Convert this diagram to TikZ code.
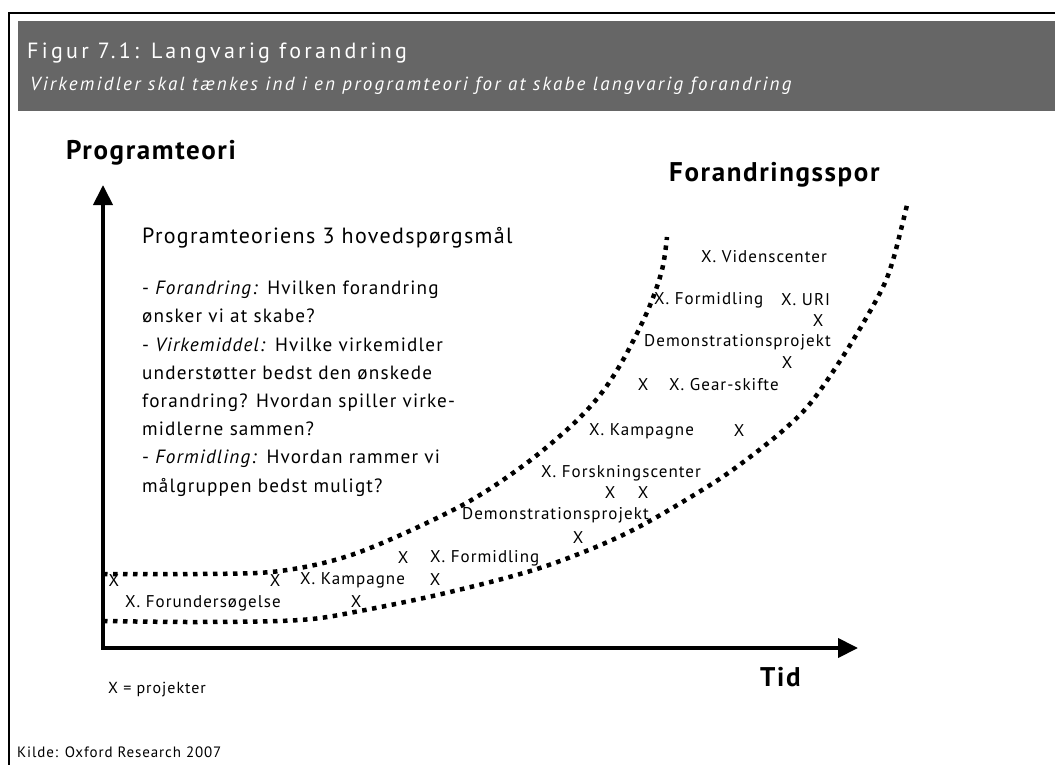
\documentclass[tikz,border=0pt]{standalone}
\usepackage{fontspec}
\setmainfont{PT Sans}[LetterSpace=6]
\newfontfamily\headfont{PT Sans}[LetterSpace=15]
\newfontfamily\subheadfont{PT Sans}[LetterSpace=12]
\usetikzlibrary{arrows.meta}
\definecolor{headgray}{HTML}{666666}
\tikzset{
  px/.style={x=1pt,y=-1pt},
  lbl/.style={inner sep=0pt, anchor=west, font=\fontsize{17}{19}\selectfont},
  xmark/.style={inner sep=0pt, anchor=center, font=\fontsize{17}{19}\selectfont},
  bigtitle/.style={inner sep=0pt, anchor=west, font=\fontsize{27}{29}\selectfont\bfseries},
  axisline/.style={line width=4pt, -{Triangle[width=19pt,length=20pt]}},
  track/.style={line width=4.5pt, dash pattern=on 4.5pt off 5.5pt},
}
\begin{document}
\begin{tikzpicture}[px]
\useasboundingbox (0,0) rectangle (1055,765);
% frame and header band
\fill[white] (0,0) rectangle (1055,765);
\draw[line width=2.5pt] (9,765) -- (9,13) -- (1056,13);
\fill[headgray] (18,21) rectangle (1056,111);
\node[inner sep=0pt, anchor=base west, text=white, font=\headfont\fontsize{22}{24}\selectfont] (title) at (27,59) {Figur 7.1: Langvarig forandring};
\node[inner sep=0pt, anchor=base west, text=white, font=\subheadfont\fontsize{19}{21}\selectfont\itshape] (subtitle) at (30,91) {Virkemidler skal tænkes ind i en programteori for at skabe langvarig forandring};

% axes
\coordinate (origin) at (103,648);
\coordinate (ytip) at (103,185);
\coordinate (xtip) at (858,648);
\draw[axisline] (origin) -- (ytip);
\draw[axisline] ([xshift=-2pt]origin) -- (xtip);
\node[bigtitle] (ylabel) at (66,153) {Programteori};
\node[bigtitle] (trackslabel) at (669,175) {Forandringsspor};
\node[bigtitle] (xlabel) at (760,677) {Tid};

% the two change tracks
\draw[track] plot[smooth, tension=0.55] coordinates {
  (103,574) (200,574) (280,571) (357,553) (457,508) (520,468) (570,427)
  (600,395) (623,360) (648,310) (662,270) (667,237)};
\draw[track] plot[smooth, tension=0.55] coordinates {
  (103,621) (200,622) (300,620) (360,611) (450,592) (543,567) (627,533)
  (707,487) (750,457) (787,427) (813,400) (847,350) (880,293) (893,260) (907,205)};

% program theory questions
\node[inner sep=0pt, anchor=west, font=\fontsize{22}{24}\selectfont] (qhead) at (142,238) {Programteoriens 3 hovedspørgsmål};
\node[inner sep=0pt, anchor=north west, align=left, font=\fontsize{19.2}{28.2}\selectfont] (qtext) at (142,281) {%
- \textit{Forandring:} Hvilken forandring\\
ønsker vi at skabe?\\
- \textit{Virkemiddel:} Hvilke virkemidler\\
understøtter bedst den ønskede\\
forandring? Hvordan spiller virke-\\
midlerne sammen?\\
- \textit{Formidling:} Hvordan rammer vi\\
målgruppen bedst muligt?};

% projects along the tracks
\node[xmark] (x1) at (114,581) {X};
\node[lbl] (forund) at (125,603) {X. Forundersøgelse};
\node[xmark] (x2) at (275,581) {X};
\node[lbl] (kamp1) at (300,580) {X. Kampagne};
\node[xmark] (x3) at (435,580) {X};
\node[xmark] (x4) at (356,602) {X};
\node[xmark] (x5) at (403,558) {X};
\node[lbl] (form1) at (430,558) {X. Formidling};
\node[lbl] (demo1) at (462,515) {Demonstrationsprojekt};
\node[xmark] (x6) at (578,538) {X};
\node[xmark] (x7) at (610,493) {X};
\node[xmark] (x8) at (643,493) {X};
\node[lbl] (forsk) at (541,473) {X. Forskningscenter};
\node[lbl] (kamp2) at (589,431) {X. Kampagne};
\node[xmark] (x9) at (739,431) {X};
\node[xmark] (x10) at (643,385) {X};
\node[lbl] (gear) at (669,385) {X. Gear-skifte};
\node[xmark] (x11) at (787,363) {X};
\node[lbl] (demo2) at (644,342) {Demonstrationsprojekt};
\node[xmark] (x12) at (818,321) {X};
\node[lbl] (form2) at (654,300) {X. Formidling};
\node[lbl] (uri) at (781,300) {X. URI};
\node[lbl] (viden) at (701,257) {X. Videnscenter};

% legend and source
\node[inner sep=0pt, anchor=west, font=\fontsize{16}{18}\selectfont] (legend) at (108,690) {X = projekter};
\node[inner sep=0pt, anchor=west, font=\fontsize{15}{17}\selectfont] (source) at (17,752) {Kilde: Oxford Research 2007};
\end{tikzpicture}
\end{document}
